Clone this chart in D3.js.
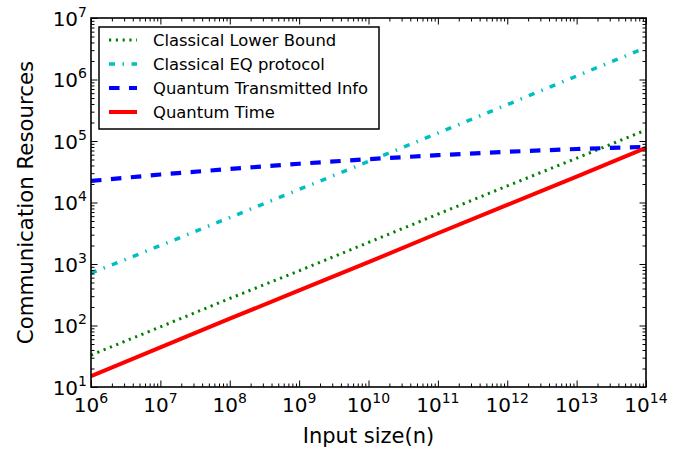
<!DOCTYPE html>
<html>
<head>
<meta charset="utf-8">
<script src="https://cdn.jsdelivr.net/npm/d3@7"></script>
<style>
  body { margin: 0; background: #fff; }
  svg { display: block; font-family: "DejaVu Sans", sans-serif; }
</style>
</head>
<body>
<div id="chart"></div>
<script>
// input size n, one point per decade
const inputSize = [1e6, 1e7, 1e8, 1e9, 1e10, 1e11, 1e12, 1e13, 1e14];

// values
const classicalLower = [33, 95, 275, 776, 2240, 6460, 18600, 52500, 151000];
const classicalEQ = [708, 2000, 5700, 16300, 46500, 134000, 390000, 1140000, 3300000];
const quantumInfo = [22400, 28500, 35100, 42700, 50700, 58900, 66800, 74100, 80400];
const quantumTime = [15, 44, 129, 372, 1070, 3160, 9120, 26300, 77600];

const seriesNames = ["Classical Lower Bound", "Classical EQ protocol", "Quantum Transmitted Info", "Quantum Time"];

const xTickExp = [6, 7, 8, 9, 10, 11, 12, 13, 14];
const yTickExp = [1, 2, 3, 4, 5, 6, 7];

const W = 700, H = 453;
const plot = { left: 91, right: 646, top: 18, bottom: 387 };

const svg = d3.select("#chart").append("svg")
  .attr("width", W)
  .attr("height", H);

const x = d3.scaleLog().domain([1e6, 1e14]).range([plot.left, plot.right]);
const y = d3.scaleLog().domain([1e1, 1e7]).range([plot.bottom, plot.top]);

//minor ticks 2..9 in each decade
function minorTicks(lo, hi) {
  let out = [];
  for (let e = lo; e < hi; e++) {
    for (let m = 2; m <= 9; m++) out.push(m * Math.pow(10, e));
  }
  return out;
}
const xMajor = xTickExp.map(e => Math.pow(10, e));
const yMajor = yTickExp.map(e => Math.pow(10, e));
const xMinor = minorTicks(6, 14);
const yMinor = minorTicks(1, 7);

// series styles
const series = [
  { name: seriesNames[0], values: classicalLower, color: "#008000", width: 3, dash: "2.2,4.6" },
  { name: seriesNames[1], values: classicalEQ, color: "#00bfbf", width: 3.5, dash: "6,7.5,1.5,7.5" },
  { name: seriesNames[2], values: quantumInfo, color: "#0000ff", width: 4.2, dash: "10.5,9.5" },
  { name: seriesNames[3], values: quantumTime, color: "#ff0000", width: 4, dash: null }
];

svg.append("defs").append("clipPath").attr("id", "clip")
  .append("rect")
  .attr("x", plot.left).attr("y", plot.top)
  .attr("width", plot.right - plot.left)
  .attr("height", plot.bottom - plot.top);

const line = d3.line()
  .x((d, i) => x(inputSize[i]))
  .y(d => y(d));

const lines = svg.append("g").attr("clip-path", "url(#clip)");
series.forEach(s => {
  lines.append("path")
    .attr("d", line(s.values))
    .attr("fill", "none")
    .attr("stroke", s.color)
    .attr("stroke-width", s.width)
    .attr("stroke-dasharray", s.dash)
    .attr("stroke-linecap", "butt");
});

// ticks on all four sides, pointing inward
function tickAxis(axisFn, scale, vals, size, transform) {
  let g = svg.append("g")
    .attr("transform", transform)
    .call(axisFn(scale).tickValues(vals).tickSize(-size).tickFormat(""));
  g.select(".domain").remove();
  g.selectAll("line").attr("stroke", "#000").attr("stroke-width", 1);
  return g;
}
tickAxis(d3.axisBottom, x, xMajor, 6.5, `translate(0,${plot.bottom})`);
tickAxis(d3.axisBottom, x, xMinor, 3.5, `translate(0,${plot.bottom})`);
tickAxis(d3.axisTop, x, xMajor, 6.5, `translate(0,${plot.top})`);
tickAxis(d3.axisTop, x, xMinor, 3.5, `translate(0,${plot.top})`);
tickAxis(d3.axisLeft, y, yMajor, 6.5, `translate(${plot.left},0)`);
tickAxis(d3.axisLeft, y, yMinor, 3.5, `translate(${plot.left},0)`);
tickAxis(d3.axisRight, y, yMajor, 6.5, `translate(${plot.right},0)`);
tickAxis(d3.axisRight, y, yMinor, 3.5, `translate(${plot.right},0)`);

// frame
svg.append("rect")
  .attr("x", plot.left).attr("y", plot.top)
  .attr("width", plot.right - plot.left)
  .attr("height", plot.bottom - plot.top)
  .attr("fill", "none")
  .attr("stroke", "#000")
  .attr("stroke-width", 1.6);

// tick labels 10^k
const xLab = svg.append("g");
xTickExp.forEach(e => {
  let t = xLab.append("text")
    .attr("x", x(Math.pow(10, e)))
    .attr("y", 411.5)
    .attr("text-anchor", "middle")
    .attr("font-size", 20)
    .attr("fill", "#000");
  t.append("tspan").text("10");
  t.append("tspan").attr("dy", -9).attr("font-size", 14).text(e);
});
const yLab = svg.append("g");
yTickExp.forEach(e => {
  let t = yLab.append("text")
    .attr("x", plot.left - 4)
    .attr("y", y(Math.pow(10, e)) + 7.5)
    .attr("text-anchor", "end")
    .attr("font-size", 20)
    .attr("fill", "#000");
  t.append("tspan").text("10");
  t.append("tspan").attr("dy", -9).attr("font-size", 14).text(e);
});

// axis titles
svg.append("text")
  .attr("x", (plot.left + plot.right) / 2)
  .attr("y", 443)
  .attr("text-anchor", "middle")
  .attr("font-size", 21)
  .text("Input size(n)");
svg.append("text")
  .attr("transform", `translate(33,${(plot.top + plot.bottom) / 2}) rotate(-90)`)
  .attr("text-anchor", "middle")
  .attr("font-size", 21.3)
  .text("Communication Resources");

// legend
const legend = svg.append("g");
legend.append("rect")
  .attr("x", 99).attr("y", 27)
  .attr("width", 280).attr("height", 102)
  .attr("fill", "#fff")
  .attr("stroke", "#000")
  .attr("stroke-width", 1.5);
series.forEach((s, i) => {
  let ly = 40 + i * 24;
  legend.append("line")
    .attr("x1", 109).attr("x2", 137)
    .attr("y1", ly).attr("y2", ly)
    .attr("stroke", s.color)
    .attr("stroke-width", s.width)
    .attr("stroke-dasharray", s.dash);
  legend.append("text")
    .attr("x", 153)
    .attr("y", ly + 6)
    .attr("font-size", 16.4)
    .text(s.name);
});
</script>
</body>
</html>
